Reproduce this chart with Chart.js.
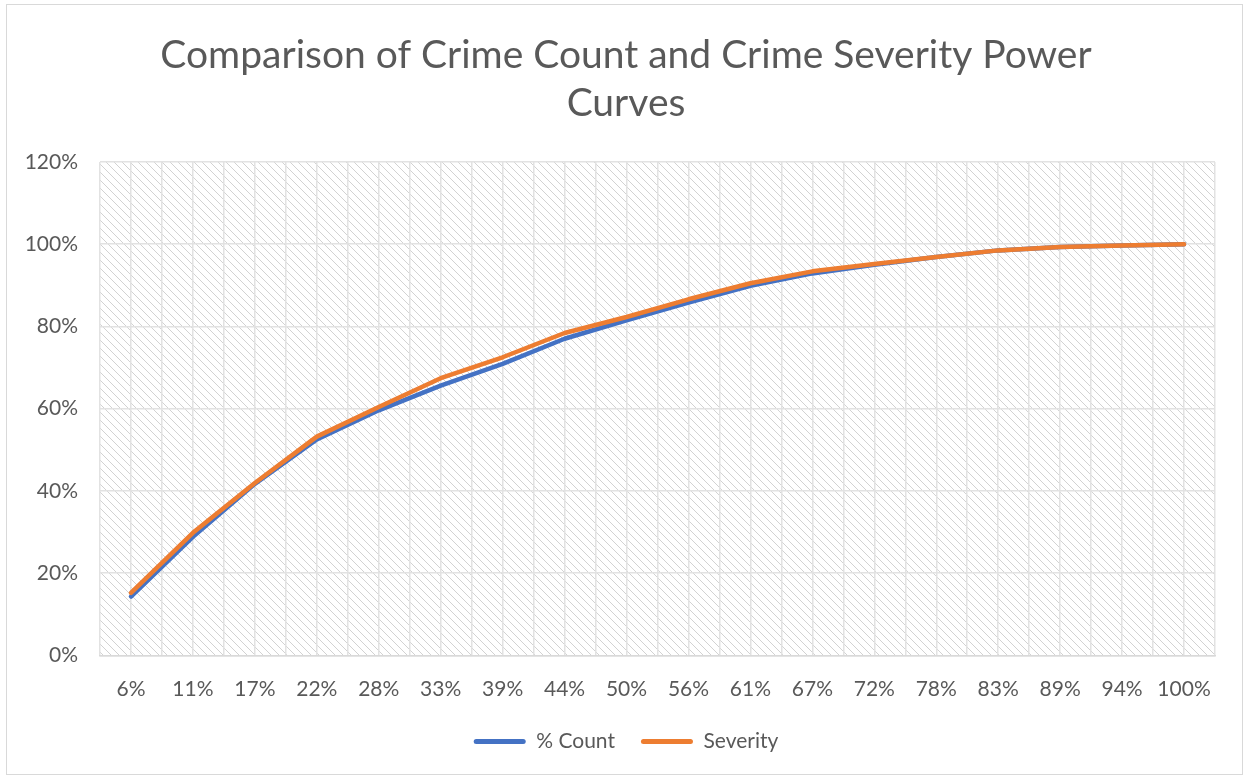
<!DOCTYPE html>
<html>
<head>
<meta charset="utf-8">
<script src="https://cdn.jsdelivr.net/npm/chart.js@4.4.0/dist/chart.umd.min.js"></script>
<style>
  html, body { margin: 0; padding: 0; background: #ffffff; }
  #wrap { position: absolute; left: 0; top: 0; width: 1244px; height: 776px; }
  #frame { position: absolute; left: 6px; top: 4px; width: 1235px; height: 769px; border: 1px solid #d9d9d9; pointer-events: none; }
</style>
</head>
<body>
<div id="wrap"><canvas id="c"></canvas></div>
<div id="frame"></div>
<script>
const titleLines = ['Comparison of Crime Count and Crime Severity Power', 'Curves'];
const categories = ['6%', '11%', '17%', '22%', '28%', '33%', '39%', '44%', '50%', '56%', '61%', '67%', '72%', '78%', '83%', '89%', '94%', '100%'];
const countValues = [14.3, 28.8, 41.7, 52.5, 59.6, 65.6, 70.9, 77.0, 81.5, 85.8, 89.9, 92.9, 95.0, 96.9, 98.5, 99.3, 99.7, 100];
const severityValues = [15.2, 29.8, 41.9, 53.2, 60.4, 67.4, 72.5, 78.4, 82.3, 86.6, 90.5, 93.4, 95.2, 96.9, 98.5, 99.3, 99.7, 100];
const yTicks = [0, 20, 40, 60, 80, 100, 120];
const seriesNames = ['% Count', 'Severity'];

const FONT = 'Lato, "Open Sans", sans-serif';
const TXT = '#595959';

function makeHatch() {
  const p = document.createElement('canvas');
  p.width = 8; p.height = 8;
  const g = p.getContext('2d');
  g.fillStyle = '#ffffff';
  g.fillRect(0, 0, 8, 8);
  g.fillStyle = '#d2d2d2';
  for (let y = 0; y < 8; y++) {
    for (let k = 0; k < 2; k++) {
      const x = (y + k) % 8;
      if ((x + y) % 2 === 0 || k === 0) g.fillRect(x, y, 1, 1);
    }
  }
  return g.createPattern(p, 'repeat');
}

const hatchPlugin = {
  id: 'hatch',
  beforeDraw(chart) {
    const a = chart.chartArea;
    const ctx = chart.ctx;
    ctx.save();
    ctx.fillStyle = makeHatch();
    ctx.fillRect(a.left, a.top, a.right - a.left, a.bottom - a.top);
    ctx.restore();
  }
};

new Chart(document.getElementById('c'), {
  type: 'line',
  data: {
    labels: categories,
    datasets: [
      {
        label: seriesNames[0],
        data: countValues,
        borderColor: '#4472C4',
        backgroundColor: '#4472C4',
        borderWidth: 4.5,
        pointRadius: 0,
        tension: 0,
        borderCapStyle: 'round',
        borderJoinStyle: 'round',
        order: 1
      },
      {
        label: seriesNames[1],
        data: severityValues,
        borderColor: '#ED7D31',
        backgroundColor: '#ED7D31',
        borderWidth: 4.5,
        pointRadius: 0,
        tension: 0,
        borderCapStyle: 'round',
        borderJoinStyle: 'round',
        order: 0
      }
    ]
  },
  options: {
    responsive: true,
    maintainAspectRatio: false,
    animation: false,
    layout: { padding: { left: 8, right: 0, top: 0, bottom: 14 } },
    plugins: {
      title: {
        display: true,
        text: titleLines,
        color: TXT,
        font: { family: FONT, size: 39, weight: 'normal', lineHeight: '48px' },
        padding: { top: 31, bottom: 35 }
      },
      legend: {
        position: 'bottom',
        labels: {
          color: TXT,
          font: { family: FONT, size: 21 },
          boxWidth: 52,
          boxHeight: 5,
          useBorderRadius: true,
          borderRadius: 2.5,
          padding: 26,
          generateLabels(chart) {
            return chart.data.datasets.map((ds, i) => ({
              text: ds.label,
              fillStyle: ds.borderColor,
              strokeStyle: ds.borderColor,
              lineWidth: 0,
              fontColor: TXT,
              hidden: false,
              datasetIndex: i,
              borderRadius: 2.5
            }));
          }
        }
      },
      tooltip: { enabled: false }
    },
    scales: {
      x: {
        type: 'category',
        offset: true,
        grid: { display: false },
        border: { display: true, color: '#d9d9d9', width: 1.5 },
        ticks: { color: TXT, font: { family: FONT, size: 21 }, padding: 13.5, maxRotation: 0, autoSkip: false },
        afterFit(scale) { scale.height -= 10.5; }
      },
      xg: {
        type: 'linear',
        axis: 'x',
        position: 'bottom',
        min: 0,
        max: categories.length * 2,
        ticks: { display: false, stepSize: 1 },
        grid: { color: '#e2e2e2', lineWidth: 1.5, drawTicks: false },
        border: { display: false }
      },
      y: {
        min: yTicks[0],
        max: yTicks[yTicks.length - 1],
        afterBuildTicks(scale) { scale.ticks = yTicks.map(v => ({ value: v })); },
        ticks: { color: TXT, font: { family: FONT, size: 21 }, padding: 22, callback: v => v + '%' },
        grid: { color: '#e2e2e2', lineWidth: 1.5, drawTicks: false },
        border: { display: false },
        afterFit(scale) { scale.width = 92; }
      },
      yr: {
        type: 'linear',
        axis: 'y',
        position: 'right',
        min: 0,
        max: 1,
        ticks: { display: false },
        grid: { display: false, drawTicks: false },
        border: { display: false },
        afterFit(scale) { scale.width = 29; }
      }
    }
  },
  plugins: [hatchPlugin]
});
</script>
</body>
</html>
